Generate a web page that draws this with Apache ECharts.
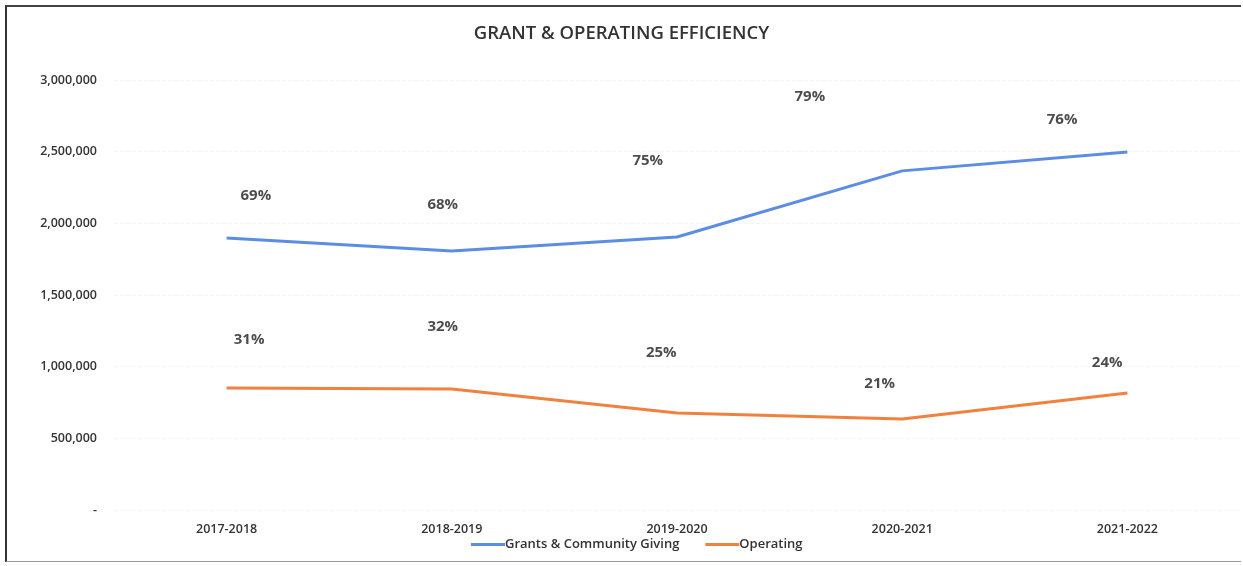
<!DOCTYPE html>
<html>
<head>
<meta charset="utf-8">
<title>Grant & Operating Efficiency</title>
<script src="https://cdn.jsdelivr.net/npm/echarts@6/dist/echarts.min.js"></script>
<style>
  html, body { margin: 0; padding: 0; background: #fff; }
  #frame {
    position: absolute; left: 5px; top: 5px; width: 1236px; height: 557px;
    border-left: 2px solid #333; border-top: 2px solid #444; border-bottom: 1px solid #999;
    box-sizing: border-box;
  }
  #chart { position: absolute; left: 0; top: 0; width: 1243px; height: 566px; }
</style>
</head>
<body>
<div id="frame"></div>
<div id="chart"></div>
<script>
// years on the x axis
const years = ['2017-2018', '2018-2019', '2019-2020', '2020-2021', '2021-2022']
// dollar amounts per year
const grants = [1898000, 1807000, 1905000, 2366000, 2498000]
const operating = [851000, 844000, 677000, 635000, 816000]
// share of total, shown as floating labels
const grantsPct = [69, 68, 75, 79, 76]
const operatingPct = [31, 32, 25, 21, 24]

// where the percentage text boxes sit (category index, axis value)
const grantsLabelAt = [[0.13, 2190000], [0.96, 2130000], [1.87, 2440000], [2.59, 2880000], [3.71, 2720000]]
const operatingLabelAt = [[0.10, 1190000], [0.96, 1280000], [1.93, 1100000], [2.90, 880000], [3.91, 1030000]]

const font = '"Open Sans", "Liberation Sans", sans-serif'
const blue = '#5b8de3'
const orange = '#f0813f'

const pctPoints = (anchors, pct) => anchors.map((a, i) => [a[0], a[1], pct[i]])

const chart = echarts.init(document.getElementById('chart'))
chart.setOption({
  animation: false,
  textStyle: { fontFamily: font },
  title: {
    text: 'GRANT & OPERATING EFFICIENCY',
    left: 'center',
    top: 19,
    textStyle: { fontFamily: font, fontSize: 18.5, fontWeight: 600, color: '#333' }
  },
  legend: {
    bottom: 10,
    left: 466,
    itemWidth: 34,
    itemHeight: 3,
    itemGap: 26,
    icon: 'rect',
    data: ['Grants & Community Giving', 'Operating'],
    textStyle: { fontFamily: font, fontSize: 13, fontWeight: 600, color: '#333', padding: [0, 0, 0, -5] }
  },
  grid: { left: 114, right: 3, top: 80, bottom: 56 },
  xAxis: [
    {
      type: 'category',
      data: years,
      boundaryGap: true,
      axisLine: { show: false },
      axisTick: { show: false },
      axisLabel: { margin: 13, fontFamily: font, fontSize: 12.5, fontWeight: 600, color: '#333' }
    },
    { type: 'value', min: -0.5, max: 4.5, show: false }
  ],
  yAxis: {
    type: 'value',
    min: 0,
    max: 3000000,
    interval: 500000,
    axisLine: { show: false },
    axisTick: { show: false },
    splitLine: { lineStyle: { color: '#f4f4f4', type: 'dashed' } },
    axisLabel: {
      margin: 17,
      fontFamily: font,
      fontSize: 12.5,
      fontWeight: 600,
      color: '#333',
      formatter: v => v === 0 ? '-' : v.toLocaleString('en-US')
    }
  },
  series: [
    {
      name: 'Grants & Community Giving',
      type: 'line',
      data: grants,
      symbol: 'none',
      itemStyle: { color: blue },
      lineStyle: { color: blue, width: 3 }
    },
    {
      name: 'Operating',
      type: 'line',
      data: operating,
      symbol: 'none',
      itemStyle: { color: orange },
      lineStyle: { color: orange, width: 3 }
    },
    {
      type: 'scatter',
      xAxisIndex: 1,
      symbolSize: 0,
      silent: true,
      data: pctPoints(grantsLabelAt, grantsPct).concat(pctPoints(operatingLabelAt, operatingPct)),
      label: {
        show: true,
        position: 'inside',
        formatter: p => p.value[2] + '%',
        fontFamily: font,
        fontSize: 15,
        fontWeight: 700,
        color: '#1e1e1e'
      }
    }
  ]
})
</script>
</body>
</html>
